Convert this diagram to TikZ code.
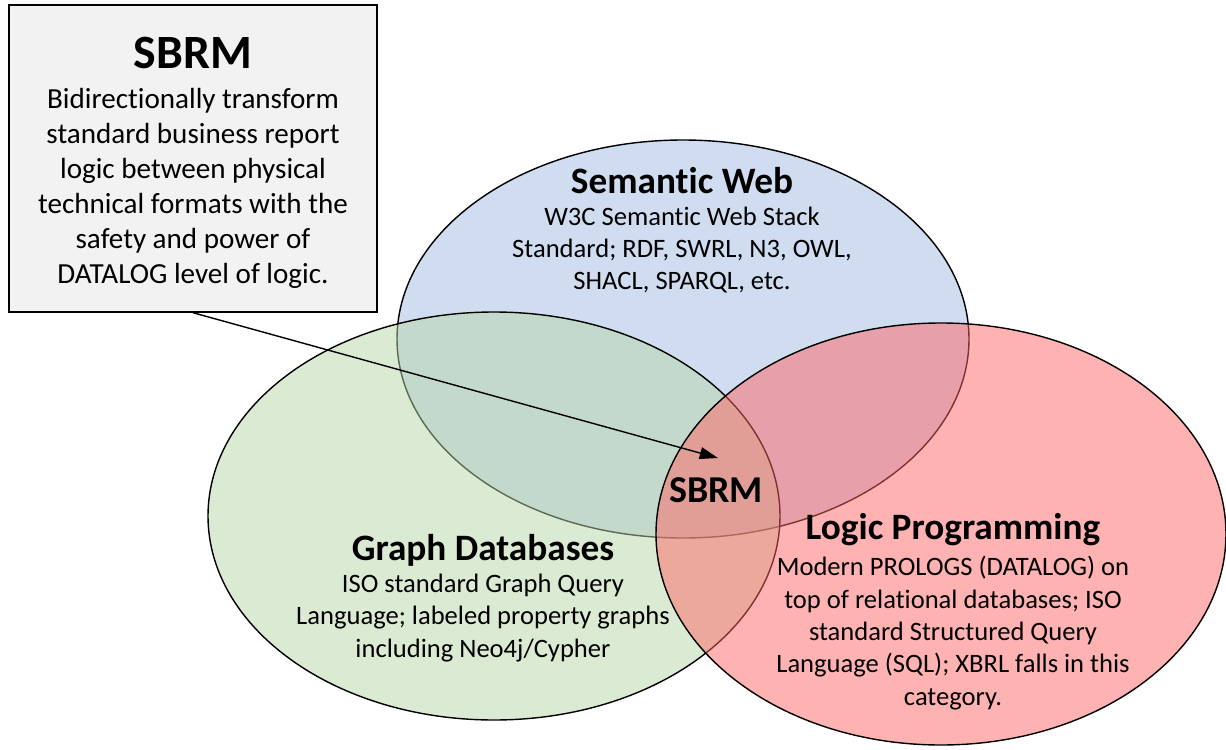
\documentclass[tikz,border=0pt]{standalone}
\usepackage{fontspec}
\setmainfont[Ligatures=NoCommon]{Carlito}
\usetikzlibrary{arrows.meta}
\definecolor{webblue}{RGB}{161,185,225}
\definecolor{graphgreen}{RGB}{183,215,167}
\definecolor{logicred}{RGB}{255,101,101}
\definecolor{boxgray}{RGB}{242,242,242}
\newcommand{\bodysize}{\fontsize{18.9}{23}\selectfont}

\begin{document}
\begin{tikzpicture}[x=0.025cm,y=-0.025cm,
    venn/.style={draw=black,line width=1pt,fill opacity=0.5},
    title/.style={font=\fontsize{26.5}{30}\selectfont\bfseries,inner sep=0pt},
    body/.style={font=\bodysize,align=center,inner sep=0pt}]
    \useasboundingbox (0,0) rectangle (1226,750);
    % the three circles
    \filldraw[venn,fill=webblue](683,339)ellipse[x radius=286,y radius=199];
    \filldraw[venn,fill=graphgreen](494,516)ellipse[x radius=286,y radius=204];
    \filldraw[venn,fill=logicred](941,534)ellipse[x radius=285,y radius=211];
    % explanation box
    \node[draw=black,line width=1pt,fill=boxgray,minimum width=368*0.025cm,minimum height=307*0.025cm,
      inner sep=0pt](box)at(193,158.5){};
    \node[title,font=\fontsize{34}{38}\selectfont\bfseries](boxtitle)at(193,53){SBRM};
    \node[body,font=\fontsize{20.7}{24.9}\selectfont](boxtext)at(193,188){Bidirectionally transform\\
      standard business report\\ logic between physical\\ technical formats with the\\
      safety and power of\\ DATALOG level of logic.};
    % labels
    \node[title](webtitle)at(682,181){Semantic Web};
    \node[body](webtext)at(682,250){W3C Semantic Web Stack\\ Standard; RDF, SWRL, N3, OWL,\\ SHACL, SPARQL, etc.};
    \node[title](graphtitle)at(483,550){Graph Databases};
    \node[body](graphtext)at(483,618){ISO standard Graph Query\\ Language; labeled property graphs\\ including Neo4j/Cypher};
    \node[title](logictitle)at(953,530){Logic Programming};
    \node[body](logictext)at(953,633){Modern PROLOGS (DATALOG) on\\ top of relational databases; ISO\\
      standard Structured Query\\ Language (SQL); XBRL falls in this\\ category.};
    \node[title,font=\fontsize{27}{30}\selectfont\bfseries](sbrm)at(716,490){SBRM};
    % pointer
    \coordinate(tip)at(718,458);
    \draw[line width=1pt,-{Triangle[length=13pt,width=8.5pt]}](box.south)--(tip);
\end{tikzpicture}
\end{document}
